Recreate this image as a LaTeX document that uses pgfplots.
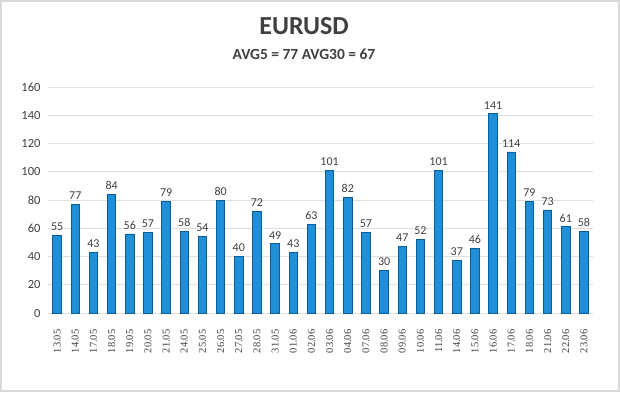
\documentclass[border=0pt]{standalone}
\usepackage{fontspec}
\setmainfont{Carlito}
\newfontfamily\datefont{Liberation Serif}
\usepackage{pgfplots}
\pgfplotsset{compat=1.18}
\definecolor{barblue}{HTML}{1F8FD8}
\definecolor{bardark}{HTML}{0B5C98}
\definecolor{txt}{HTML}{404040}
\begin{document}
\begin{tikzpicture}[x=1pt,y=1pt]
\fill[white] (0,0) rectangle (620,392);
\draw[gray!30, line width=1.5pt] (1,1) rectangle (619,391);
\node[font=\fontsize{26}{28}\selectfont\bfseries, text=txt] at (304,366) {EURUSD};
\node[font=\fontsize{15.5}{17}\selectfont\bfseries, text=txt] at (304,338) {AVG5 = 77 AVG30 = 67};
\begin{axis}[at={(48pt,79pt)}, anchor=south west, scale only axis,
  width=545pt, height=226pt,
  ymin=0, ymax=160, xmin=-0.5, xmax=29.5,
  ytick={0,20,...,160},
  ymajorgrids, grid style={draw=gray!25, line width=0.8pt},
  axis line style={draw=none}, tick style={draw=none},
  xtick={0,...,29},
  xticklabels={13.05,14.05,17.05,18.05,19.05,20.05,21.05,24.05,25.05,26.05,27.05,28.05,31.05,01.06,02.06,03.06,04.06,07.06,08.06,09.06,10.06,11.06,14.06,15.06,16.06,17.06,18.06,21.06,22.06,23.06},
  x tick label style={rotate=90, anchor=east, font=\datefont\fontsize{10.5}{12}\selectfont, text=txt, xshift=-13pt},
  y tick label style={font=\fontsize{12.5}{14}\selectfont, text=txt, xshift=-4pt},
  /pgf/number format/assume math mode=true,
  nodes near coords, every node near coord/.style={font=\fontsize{12}{14}\selectfont, text=txt, yshift=1pt},
  ]
\addplot[ybar, bar width=8.5pt, draw=bardark, line width=0.7pt, fill=barblue] coordinates {
(0,55) (1,77) (2,43) (3,84) (4,56) (5,57) (6,79) (7,58) (8,54) (9,80)
(10,40) (11,72) (12,49) (13,43) (14,63) (15,101) (16,82) (17,57) (18,30) (19,47)
(20,52) (21,101) (22,37) (23,46) (24,141) (25,114) (26,79) (27,73) (28,61) (29,58)};
\end{axis}
\end{tikzpicture}
\end{document}
